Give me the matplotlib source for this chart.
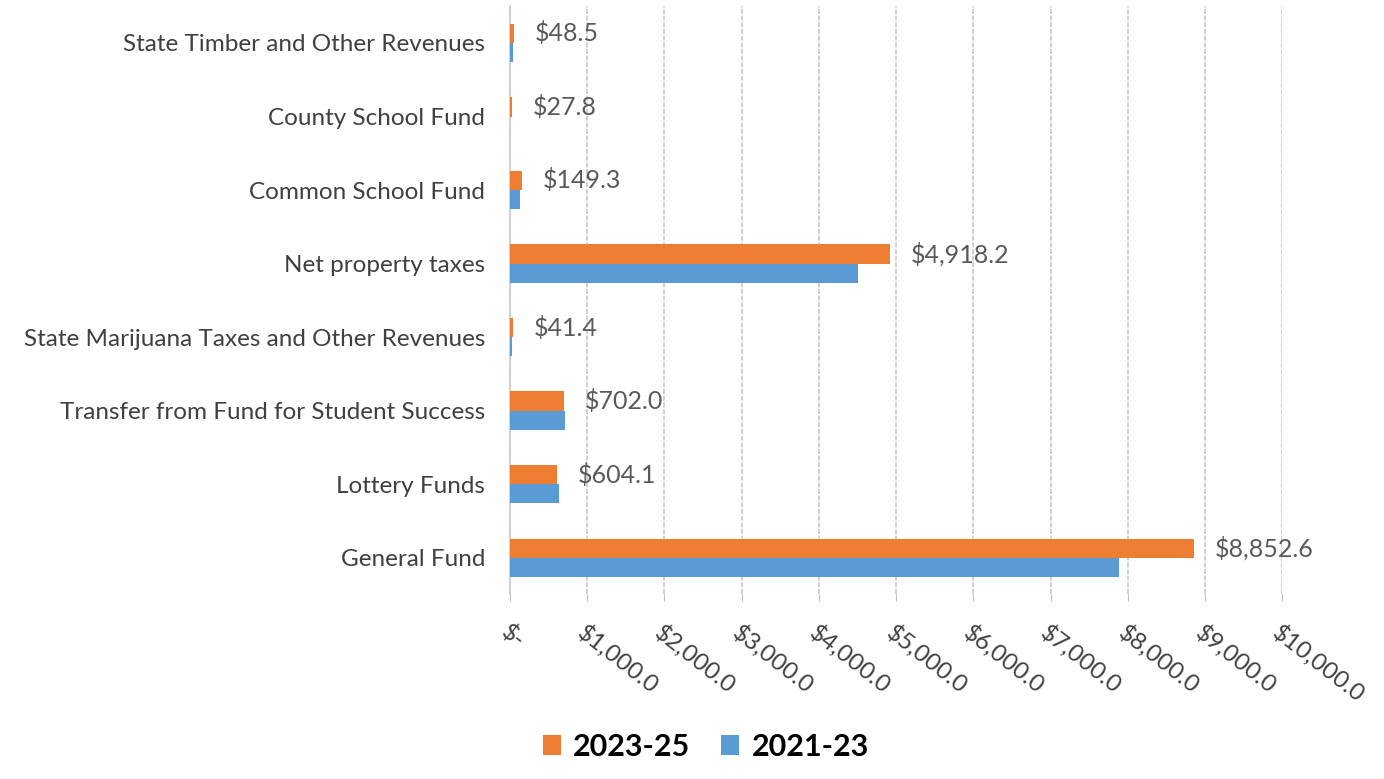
import matplotlib.pyplot as plt
import numpy as np

plt.rcParams['font.family'] = ['Lato', 'DejaVu Sans']

categories = ['General Fund', 'Lottery Funds', 'Transfer from Fund for Student Success',
              'State Marijuana Taxes and Other Revenues', 'Net property taxes',
              'Common School Fund', 'County School Fund', 'State Timber and Other Revenues']
vals_2325 = [8852.6, 604.1, 702.0, 41.4, 4918.2, 149.3, 27.8, 48.5]
vals_2123 = [7880.0, 636.0, 714.0, 30.0, 4506.0, 128.0, 0.0, 40.0]
xticks = np.arange(0, 10001, 1000)
xtick_labels = ['$-'] + ['${:,.1f}'.format(v) for v in xticks[1:]]

orange = '#ED7D31'
blue = '#5B9BD5'

fig = plt.figure(figsize=(13.84, 7.79), dpi=100)
ax = fig.add_axes([0.3685, 0.237, 0.558, 0.755])

y = np.arange(len(categories))
h = 0.26
b1 = ax.barh(y + h / 2, vals_2325, height=h, color=orange, label='2023-25', zorder=3)
b2 = ax.barh(y - h / 2, vals_2123, height=h, color=blue, label='2021-23', zorder=3)

for yi, v in zip(y, vals_2325):
    ax.annotate('${:,.1f}'.format(v), xy=(v, yi + h / 2), xytext=(15, 0),
                textcoords='offset points', ha='left', va='center',
                fontsize=18, color='#595959')

ax.set_xlim(0, 10000)
ax.set_ylim(-0.5, 7.5)
ax.set_yticks(y)
ax.set_yticklabels(categories, fontsize=17.5, color='#404040')
ax.set_xticks(xticks)
ax.set_xticklabels(xtick_labels, rotation=-38, ha='left', rotation_mode='anchor',
                   fontsize=17.5, color='#404040')
ax.tick_params(axis='y', length=0, pad=18)
ax.tick_params(axis='x', length=5, color='#BFBFBF', pad=14)
ax.grid(axis='x', color='#C8C8C8', linestyle=(0, (3, 1)), linewidth=1.2, zorder=0)
for s in ['top', 'right', 'bottom']:
    ax.spines[s].set_visible(False)
ax.spines['left'].set_color('#C8C8C8')
ax.spines['left'].set_linestyle((0, (3, 1)))
ax.spines['left'].set_linewidth(1.2)

leg = fig.legend(handles=[b1, b2], loc='lower center', bbox_to_anchor=(0.51, -0.012),
                 ncol=2, frameon=False, prop={'size': 22, 'weight': 'bold'},
                 handlelength=0.6, handleheight=0.6, columnspacing=1.0, handletextpad=0.4)

fig.savefig('out.png', dpi=100)
